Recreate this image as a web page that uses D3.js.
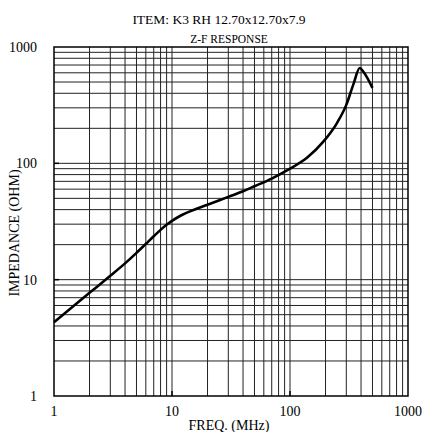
<!DOCTYPE html>
<html><head><meta charset="utf-8">
<script src="https://cdn.jsdelivr.net/npm/d3@7"></script>
<style>body{margin:0;background:#fff}svg{display:block}text{font-family:"Liberation Serif","Times New Roman",serif;fill:#000}</style>
</head><body><svg id="c" width="423" height="432"></svg>
<script>
const title = "ITEM: K3 RH 12.70x12.70x7.9";
const subtitle = "Z-F RESPONSE";
const xTitle = "FREQ. (MHz)";
const yTitle = "IMPEDANCE (OHM)";
const xTicks = [1, 10, 100, 1000];
const yTicks = [1, 10, 100, 1000];
const freq = [1, 2, 3, 4, 5, 6, 7, 8, 9, 10, 12, 15, 20, 30, 40, 50, 70, 100, 140, 190, 250, 300, 345, 390, 420, 500];
const imp  = [4.3, 7.7, 10.8, 13.8, 17.0, 20.3, 23.6, 26.8, 29.6, 32, 35.8, 39.5, 44, 51.5, 57.5, 63.5, 74, 90, 112, 152, 222, 318, 480, 660, 610, 445];

const svg = d3.select("#c");
const L = 54, R = 408, T = 47, B = 396;
const x = d3.scaleLog().domain([1, 1000]).range([L, R]);
const y = d3.scaleLog().domain([1, 1000]).range([B, T]);

const minor = [];
for (let d = 1; d < 1000; d *= 10) for (let k = 2; k <= 10; k++) minor.push(d * k);
const gridVals = minor.filter(v => v < 1000);

const g = svg.append("g");
g.selectAll("line.v").data(gridVals).join("line")
  .attr("x1", d => x(d)).attr("x2", d => x(d)).attr("y1", T).attr("y2", B)
  .attr("stroke", "#222").attr("stroke-width", 1);
g.selectAll("line.h").data(gridVals).join("line")
  .attr("y1", d => y(d)).attr("y2", d => y(d)).attr("x1", L).attr("x2", R)
  .attr("stroke", "#222").attr("stroke-width", 1);

g.selectAll("line.tl").data(yTicks.slice(1, 3)).join("line")
  .attr("x1", L).attr("x2", L + 5).attr("y1", d => y(d)).attr("y2", d => y(d))
  .attr("stroke", "#000").attr("stroke-width", 1.5);
g.selectAll("line.tb").data(xTicks.slice(1, 3)).join("line")
  .attr("y1", B).attr("y2", B - 5).attr("x1", d => x(d)).attr("x2", d => x(d))
  .attr("stroke", "#000").attr("stroke-width", 1.5);

svg.append("rect").attr("x", L).attr("y", T).attr("width", R - L).attr("height", B - T)
  .attr("fill", "none").attr("stroke", "#000").attr("stroke-width", 1.5);

const line = d3.line().x((d, i) => x(freq[i])).y(d => y(d)).curve(d3.curveMonotoneX);
svg.append("path").datum(imp).attr("d", line)
  .attr("fill", "none").attr("stroke", "#000").attr("stroke-width", 2.6).attr("stroke-linejoin", "round");

svg.selectAll("text.yt").data(yTicks).join("text")
  .attr("x", 37).attr("y", d => y(d)).attr("dy", "0.35em").attr("text-anchor", "end")
  .attr("font-size", 14).text(d => d);
svg.selectAll("text.xt").data(xTicks).join("text")
  .attr("x", d => x(d)).attr("y", 416).attr("text-anchor", "middle")
  .attr("font-size", 14).text(d => d);

svg.append("text").attr("x", 219).attr("y", 23.5).attr("text-anchor", "middle").attr("font-size", 13.5).text(title);
svg.append("text").attr("x", 229).attr("y", 43).attr("text-anchor", "middle").attr("font-size", 11.5).text(subtitle);
svg.append("text").attr("x", 229).attr("y", 430).attr("text-anchor", "middle").attr("font-size", 14).text(xTitle);
svg.append("text").attr("transform", "translate(19,233) rotate(-90)").attr("text-anchor", "middle")
  .attr("font-size", 14).text(yTitle);
</script></body></html>
